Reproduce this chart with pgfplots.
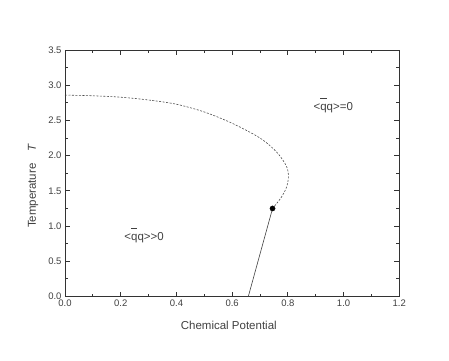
\documentclass[border=0pt]{standalone}
\usepackage{fontspec}
\setmainfont{Liberation Sans}
\usepackage{pgfplots}
\pgfplotsset{compat=1.18}

\newcommand{\qbar}{\makebox[0pt][l]{\raisebox{12pt}{\rule{0.55em}{0.5pt}}}q}

\begin{document}
\begin{tikzpicture}
\useasboundingbox (-65pt,-63.5pt) rectangle (384pt,296.5pt);
\begin{axis}[
    scale only axis,
    width=334.3pt, height=246.5pt,
    xmin=0, xmax=1.2, ymin=0, ymax=3.5,
    xtick={0,0.2,...,1.2}, ytick={0,0.5,...,3.5},
    minor x tick num=1, minor y tick num=1,
    tick align=inside,
    major tick length=5pt, minor tick length=3pt,
    axis line style={line width=0.9pt, black!80},
    every tick/.style={black!80, line width=0.8pt},
    tick label style={font=\fontsize{9.5}{11}\selectfont, text=black!75},
    /pgf/number format/assume math mode=true,
    xticklabel style={/pgf/number format/.cd, fixed, fixed zerofill, precision=1},
    yticklabel style={/pgf/number format/.cd, fixed, fixed zerofill, precision=1},
    xlabel={Chemical Potential},
    ylabel={Temperature\quad\textit{T}},
    every axis x label/.style={at={(rel axis cs:0.49,0)}, anchor=center, yshift=-28.5pt,
        font=\fontsize{11.5}{13}\selectfont, text=black!75},
    every axis y label/.style={at={(rel axis cs:0,0.448)}, anchor=center, xshift=-32pt,
        rotate=90, font=\fontsize{11.5}{13}\selectfont, text=black!75},
    clip=false,
]
% dashed first-order line
\addplot[black!70, line width=0.6pt, dash pattern=on 2pt off 1.5pt, smooth, tension=0.5] coordinates {
    (0.000,2.86) (0.100,2.85) (0.200,2.83) (0.300,2.79) (0.400,2.73)
    (0.500,2.62) (0.600,2.46) (0.700,2.25) (0.760,2.05) (0.795,1.85)
    (0.802,1.70) (0.795,1.55) (0.775,1.40) (0.745,1.25)
};
% solid line
\addplot[black!75, line width=0.6pt] coordinates {(0.745,1.25) (0.658,0.0)};
% critical point
\addplot[only marks, mark=*, mark size=2.6pt, black] coordinates {(0.745,1.25)};
\node[font=\fontsize{11.5}{13}\selectfont, text=black!75] at (axis cs:0.963,2.71) {<\qbar q>=0};
\node[font=\fontsize{11.5}{13}\selectfont, text=black!75] at (axis cs:0.284,0.86) {<\qbar q>{}>0};
\end{axis}
\end{tikzpicture}
\end{document}
